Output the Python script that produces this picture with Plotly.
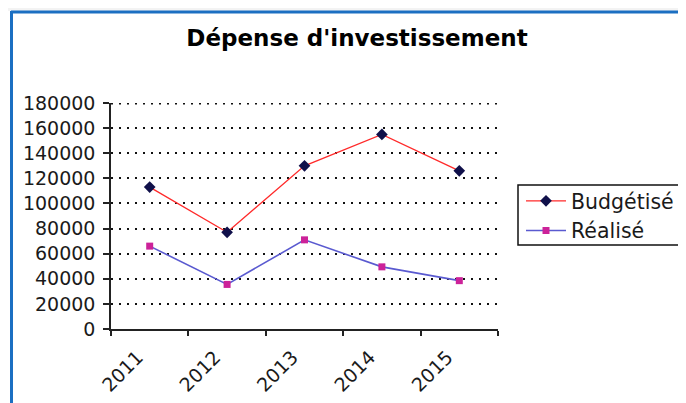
import plotly.graph_objects as go

years = ["2011", "2012", "2013", "2014", "2015"]
budgetise = [113000, 77000, 130000, 155000, 126000]
realise = [66000, 35500, 71000, 49500, 38500]
y_ticks = [0, 20000, 40000, 60000, 80000, 100000, 120000, 140000, 160000, 180000]
y_max = 180000

# the page body has an 8px margin, so work in target-window pixels shifted by OFF
OFF = 8
W, H = 686 - OFF, 403 - OFF
PL, PR, PT, PB = 111, 498, 103, 329  # plot area in window pixels
L, R, T, B = PL - OFF, W - (PR - OFF), PT - OFF, H - (PB - OFF)
pw, ph = PR - PL, PB - PT

def px_x(x):
    return (x - PL) / pw

def px_y(y):
    return (PB - y) / ph

fig = go.Figure()
fig.add_trace(go.Scatter(
    x=years, y=budgetise, name="Budgétisé", mode="lines+markers",
    line=dict(color="#ff2a2a", width=1.3),
    marker=dict(symbol="diamond", size=9, color="#10104a", line=dict(width=0)),
))
fig.add_trace(go.Scatter(
    x=years, y=realise, name="Réalisé", mode="lines+markers",
    line=dict(color="#5a5ad0", width=1.6),
    marker=dict(symbol="square", size=7, color="#cc2299", line=dict(width=0)),
))

font = "DejaVu Sans"
dots = "2px,6px"
fig.update_layout(
    width=W, height=H,
    margin=dict(l=L, r=R, t=T, b=B, pad=0, autoexpand=False),
    paper_bgcolor="white", plot_bgcolor="white",
    font=dict(family=font, size=19, color="#1a1a1a"),
    title=dict(text="<b>Dépense d'investissement</b>", x=(357 - OFF) / W, xanchor="center",
               yref="container", y=1 - (38 - OFF) / H, yanchor="middle",
               font=dict(family=font, size=23, color="black")),
    showlegend=True,
    legend=dict(x=px_x(521), xanchor="left", y=px_y(181), yanchor="top",
                borderwidth=0, bgcolor="rgba(0,0,0,0)",
                font=dict(family=font, size=20.5, color="#1a1a1a"),
                tracegroupgap=0, itemwidth=40),
    xaxis=dict(type="category", tickson="boundaries", ticks="outside", ticklen=5,
               tickcolor="#222", tickwidth=1.5, showline=True, linecolor="#222", linewidth=1.5,
               showgrid=False, tickangle=-45, tickfont=dict(size=19),
               ticklabelshift=-12, ticklabelstandoff=8,
               range=[-0.5, 4.5], zeroline=False, automargin=False),
    yaxis=dict(range=[0, y_max], tickvals=y_ticks, ticktext=[str(v) for v in y_ticks],
               ticks="outside", ticklen=6, tickcolor="#222", tickwidth=1.5,
               showline=True, linecolor="#222", linewidth=1.5,
               showgrid=True, gridcolor="#111", gridwidth=1.5, griddash=dots,
               zeroline=False, tickfont=dict(size=19), ticklabelstandoff=4, automargin=False),
    shapes=[
        dict(type="rect", xref="paper", yref="paper", x0=px_x(0), x1=px_x(700),
             y0=px_y(11), y1=px_y(-5), fillcolor="#f3f3f3", line=dict(width=0), layer="below"),
        dict(type="line", xref="paper", yref="paper", x0=px_x(11), x1=px_x(700),
             y0=px_y(12), y1=px_y(12), line=dict(color="#1b6fc2", width=3)),
        dict(type="line", xref="paper", yref="paper", x0=px_x(11.5), x1=px_x(11.5),
             y0=px_y(11), y1=px_y(420), line=dict(color="#1b6fc2", width=3)),
        dict(type="line", xref="paper", yref="y", x0=0, x1=1, y0=y_max, y1=y_max,
             line=dict(color="#111", width=3, dash=dots), layer="below"),
        dict(type="rect", xref="paper", yref="paper", x0=px_x(518), x1=px_x(682),
             y0=px_y(185), y1=px_y(245), line=dict(color="#111", width=1.5),
             fillcolor="rgba(0,0,0,0)"),
    ],
)

fig.write_html("out.html")
